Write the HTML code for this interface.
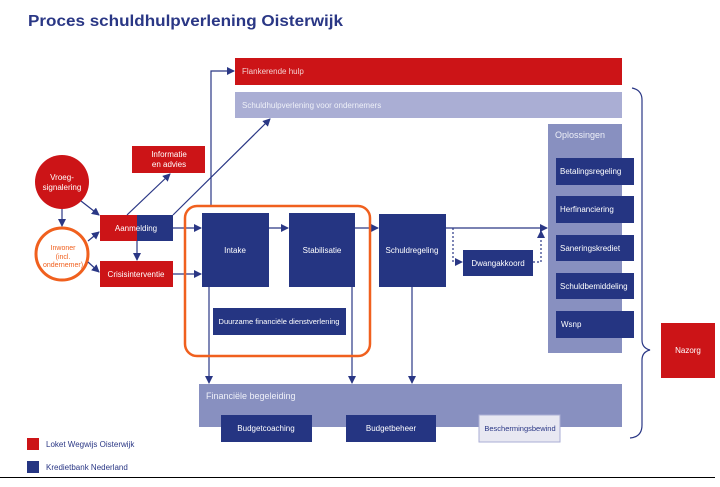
<!DOCTYPE html>
<html><head><meta charset="utf-8"><style>
html,body{margin:0;padding:0;background:#fff;}
svg{display:block;font-family:"Liberation Sans",sans-serif;}
</style></head><body>
<svg width="720" height="487" viewBox="0 0 720 487" xmlns="http://www.w3.org/2000/svg">
<defs>
<marker id="a" markerWidth="8" markerHeight="8" refX="7" refY="4" orient="auto" markerUnits="userSpaceOnUse">
<path d="M0,0 L8,4 L0,8 z" fill="#2a3785"/></marker>
</defs>
<text x="28" y="26" font-size="16" font-weight="bold" fill="#2a3785" textLength="315" lengthAdjust="spacingAndGlyphs">Proces schuldhulpverlening Oisterwijk</text>

<rect x="235" y="58" width="387" height="27" fill="#cc1417"/>
<text x="242" y="74" font-size="8" fill="#f3d0d0">Flankerende hulp</text>
<rect x="235" y="92" width="387" height="26" fill="#aaaed4"/>
<text x="242" y="108" font-size="8" fill="#eef0f8">Schuldhulpverlening voor ondernemers</text>

<rect x="548" y="124" width="74" height="229" fill="#8890c0"/>
<text x="555" y="138" font-size="9" fill="#eef0f8">Oplossingen</text>
<g fill="#253582">
<rect x="556" y="158" width="78" height="27"/>
<rect x="556" y="196" width="78" height="27"/>
<rect x="556" y="235" width="78" height="26"/>
<rect x="556" y="273" width="78" height="26"/>
<rect x="556" y="311" width="78" height="27"/>
</g>
<g font-size="8" fill="#fff">
<text x="560" y="174">Betalingsregeling</text>
<text x="560" y="212">Herfinanciering</text>
<text x="560" y="251">Saneringskrediet</text>
<text x="560" y="289">Schuldbemiddeling</text>
<text x="561" y="327">Wsnp</text>
</g>

<path d="M632,88 Q642,90 642,100 L642,340 Q642,348 650,350 Q642,352 642,360 L642,425 Q642,437 630,438" fill="none" stroke="#2a3785" stroke-width="1.2"/>
<rect x="661" y="323" width="54" height="55" fill="#cc1417"/>
<text x="688" y="353" font-size="8" fill="#fff" text-anchor="middle">Nazorg</text>

<circle cx="62" cy="182" r="27" fill="#cc1417"/>
<text x="62" y="180" font-size="8" fill="#fff" text-anchor="middle">Vroeg-</text>
<text x="62" y="190" font-size="8" fill="#fff" text-anchor="middle">signalering</text>
<circle cx="62" cy="254" r="26" fill="#fff" stroke="#f0601e" stroke-width="3"/>
<text x="63" y="250" font-size="7" fill="#f0601e" text-anchor="middle">Inwoner</text>
<text x="63" y="259" font-size="7" fill="#f0601e" text-anchor="middle">(incl.</text>
<text x="63" y="267" font-size="7" fill="#f0601e" text-anchor="middle">ondernemer)</text>

<rect x="132" y="146" width="73" height="27" fill="#cc1417"/>
<text x="169" y="157" font-size="8" fill="#fff" text-anchor="middle">Informatie</text>
<text x="169" y="167" font-size="8" fill="#fff" text-anchor="middle">en advies</text>
<rect x="100" y="215" width="37" height="26" fill="#cc1417"/>
<rect x="137" y="215" width="36" height="26" fill="#253582"/>
<text x="136" y="231" font-size="8" fill="#fff" text-anchor="middle">Aanmelding</text>
<rect x="100" y="261" width="73" height="26" fill="#cc1417"/>
<text x="136" y="277" font-size="8" fill="#fff" text-anchor="middle">Crisisinterventie</text>

<g stroke="#2a3785" stroke-width="1.2" fill="none">
<line x1="62" y1="209" x2="62" y2="226" marker-end="url(#a)"/>
<line x1="81" y1="201" x2="99" y2="215" marker-end="url(#a)"/>
<line x1="88" y1="241" x2="99" y2="232" marker-end="url(#a)"/>
<line x1="88" y1="262" x2="99" y2="272" marker-end="url(#a)"/>
<line x1="137" y1="241" x2="137" y2="260" marker-end="url(#a)"/>
<line x1="127" y1="215" x2="170" y2="174" marker-end="url(#a)"/>
<line x1="173" y1="215" x2="270" y2="119" marker-end="url(#a)"/>
<line x1="173" y1="228" x2="201" y2="228" marker-end="url(#a)"/>
<line x1="173" y1="274" x2="201" y2="274" marker-end="url(#a)"/>
<polyline points="211,205 211,71 234,71" marker-end="url(#a)"/>
<line x1="264" y1="228" x2="288" y2="228" marker-end="url(#a)"/>
<line x1="355" y1="228" x2="378" y2="228" marker-end="url(#a)"/>
<line x1="446" y1="228" x2="547" y2="228" marker-end="url(#a)"/>
<line x1="209" y1="287" x2="209" y2="383" marker-end="url(#a)"/>
<line x1="352" y1="287" x2="352" y2="383" marker-end="url(#a)"/>
<line x1="412" y1="287" x2="412" y2="383" marker-end="url(#a)"/>
<polyline points="453,228 453,262 462,262" stroke-dasharray="2,2" marker-end="url(#a)"/>
<polyline points="533,262 541,262 541,231" stroke-dasharray="2,2" marker-end="url(#a)"/>
</g>

<rect x="185" y="206" width="185" height="150" rx="12" fill="none" stroke="#f0601e" stroke-width="2.5"/>
<rect x="202" y="213" width="67" height="74" fill="#253582"/>
<text x="235" y="253" font-size="8" fill="#fff" text-anchor="middle">Intake</text>
<rect x="289" y="213" width="66" height="74" fill="#253582"/>
<text x="322" y="253" font-size="8" fill="#fff" text-anchor="middle">Stabilisatie</text>
<rect x="213" y="308" width="133" height="27" fill="#253582"/>
<text x="279" y="324" font-size="7.5" fill="#fff" text-anchor="middle">Duurzame financiële dienstverlening</text>

<rect x="379" y="214" width="67" height="73" fill="#253582"/>
<text x="412" y="253" font-size="8" fill="#fff" text-anchor="middle">Schuldregeling</text>
<rect x="463" y="250" width="70" height="26" fill="#253582"/>
<text x="498" y="266" font-size="8" fill="#fff" text-anchor="middle">Dwangakkoord</text>

<rect x="199" y="384" width="423" height="43" fill="#8890c0"/>
<text x="206" y="399" font-size="9" fill="#eef0f8">Financiële begeleiding</text>
<rect x="221" y="415" width="91" height="27" fill="#253582"/>
<text x="266" y="431" font-size="8" fill="#fff" text-anchor="middle">Budgetcoaching</text>
<rect x="346" y="415" width="90" height="27" fill="#253582"/>
<text x="391" y="431" font-size="8" fill="#fff" text-anchor="middle">Budgetbeheer</text>
<rect x="479" y="415" width="81" height="27" fill="#e8e8f2" stroke="#aaaed4" stroke-width="1"/>
<text x="520" y="431" font-size="7.5" fill="#2a3785" text-anchor="middle">Beschermingsbewind</text>

<rect x="27" y="438" width="12" height="12" fill="#cc1417"/>
<text x="46" y="447" font-size="8" fill="#2a3785">Loket Wegwijs Oisterwijk</text>
<rect x="27" y="461" width="12" height="12" fill="#253582"/>
<text x="46" y="470" font-size="8" fill="#2a3785">Kredietbank Nederland</text>
<line x1="0" y1="477.5" x2="715" y2="477.5" stroke="#000" stroke-width="1"/>
</svg>
</body></html>
